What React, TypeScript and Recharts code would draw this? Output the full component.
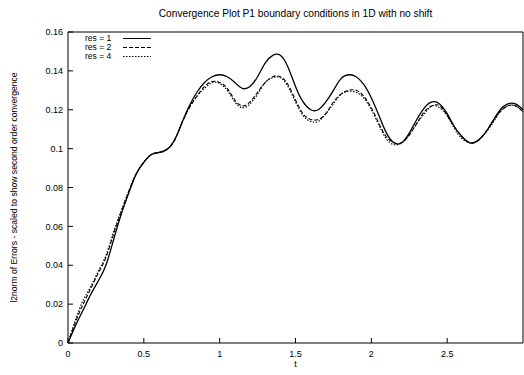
import { LineChart, Line, XAxis, YAxis } from "recharts";

const FONT = "'Liberation Sans', Arial, sans-serif";

const tValues = [
  0, 0.05, 0.1, 0.15, 0.2, 0.25, 0.3, 0.35, 0.4, 0.45, 0.5, 0.55, 0.6, 0.65,
  0.7, 0.75, 0.8, 0.85, 0.9, 0.95, 1, 1.05, 1.1, 1.15, 1.2, 1.25, 1.3, 1.35,
  1.4, 1.45, 1.5, 1.55, 1.6, 1.65, 1.7, 1.75, 1.8, 1.85, 1.9, 1.95, 2, 2.05,
  2.1, 2.15, 2.2, 2.25, 2.3, 2.35, 2.4, 2.45, 2.5, 2.55, 2.6, 2.65, 2.7, 2.75,
  2.8, 2.85, 2.9, 2.95, 3,
];

const res1 = [
  0, 0.009, 0.017, 0.025, 0.032, 0.04, 0.053, 0.066, 0.077, 0.087, 0.093,
  0.097, 0.098, 0.0995, 0.104, 0.113, 0.122, 0.129, 0.134, 0.137, 0.138,
  0.137, 0.134, 0.131, 0.132, 0.137, 0.144, 0.148, 0.148, 0.142, 0.132, 0.124,
  0.12, 0.12, 0.124, 0.13, 0.136, 0.138, 0.137, 0.133, 0.126, 0.117, 0.108,
  0.103, 0.103, 0.108, 0.115, 0.121, 0.124, 0.123, 0.118, 0.111, 0.106, 0.103,
  0.104, 0.108, 0.114, 0.12, 0.123, 0.123, 0.12,
];

const res2 = [
  0, 0.011, 0.02, 0.028, 0.036, 0.044, 0.056, 0.067, 0.078, 0.087, 0.093,
  0.097, 0.098, 0.0995, 0.104, 0.113, 0.121, 0.127, 0.132, 0.1345, 0.134,
  0.131, 0.125, 0.122, 0.124, 0.129, 0.134, 0.137, 0.137, 0.133, 0.125, 0.118,
  0.115, 0.115, 0.118, 0.124, 0.128, 0.13, 0.13, 0.127, 0.121, 0.113, 0.106,
  0.103, 0.103, 0.107, 0.113, 0.119, 0.122, 0.122, 0.117, 0.111, 0.106, 0.103,
  0.104, 0.108, 0.114, 0.119, 0.122, 0.122, 0.119,
];

const res4 = [
  0, 0.012, 0.022, 0.029, 0.037, 0.045, 0.057, 0.068, 0.078, 0.087, 0.093,
  0.097, 0.098, 0.0995, 0.104, 0.113, 0.121, 0.127, 0.131, 0.134, 0.1335,
  0.13, 0.124, 0.121, 0.123, 0.128, 0.134, 0.1365, 0.1365, 0.132, 0.124,
  0.117, 0.114, 0.114, 0.118, 0.123, 0.128, 0.1295, 0.129, 0.126, 0.12, 0.112,
  0.105, 0.102, 0.103, 0.107, 0.113, 0.118, 0.122, 0.121, 0.117, 0.11, 0.105,
  0.103, 0.104, 0.108, 0.113, 0.119, 0.122, 0.122, 0.119,
];

const xTicks = [0, 0.5, 1, 1.5, 2, 2.5];
const yTicks = [0, 0.02, 0.04, 0.06, 0.08, 0.1, 0.12, 0.14, 0.16];

const SERIES = [
  { key: "res1", name: "res = 1", dash: undefined, width: 1.3 },
  { key: "res2", name: "res = 2", dash: "4 2", width: 1.1 },
  { key: "res4", name: "res = 4", dash: "1.5 1.5", width: 1.1 },
];

const data = tValues.map((t, i) => ({
  t,
  res1: res1[i],
  res2: res2[i],
  res4: res4[i],
}));

const tickStyle = { fill: "#000", fontSize: 9, fontFamily: FONT };

// legend box sits inside the plot, top-left, like gnuplot's key
function LegendBox() {
  return (
    <div
      style={{
        position: "absolute",
        left: 85,
        top: 34,
        fontFamily: FONT,
        fontSize: 8.5,
        lineHeight: "9px",
        color: "#000",
      }}
    >
      {SERIES.map((s) => (
        <div key={s.key} style={{ display: "flex", alignItems: "center", height: 9 }}>
          <span style={{ width: 36, whiteSpace: "nowrap" }}>{s.name}</span>
          <svg width={32} height={9}>
            <line
              x1={2}
              x2={30}
              y1={4.5}
              y2={4.5}
              stroke="#000"
              strokeWidth={1}
              strokeDasharray={s.dash}
            />
          </svg>
        </div>
      ))}
    </div>
  );
}

export default function App() {
  return (
    <div
      style={{
        position: "absolute",
        left: 0,
        top: 0,
        width: 524,
        height: 375,
        background: "#fff",
      }}
    >
      <LineChart
        width={524}
        height={375}
        data={data}
        margin={{ top: 31, right: 0, bottom: 0, left: 0 }}
      >
        <XAxis
          dataKey="t"
          type="number"
          domain={[0, 3]}
          ticks={xTicks}
          interval={0}
          tickSize={-5}
          tickMargin={13}
          stroke="#000"
          tick={tickStyle}
          height={32}
          label={{
            value: "t",
            position: "insideBottom",
            offset: 8,
            style: { fill: "#000", fontSize: 9, fontFamily: FONT },
          }}
        />
        <XAxis
          xAxisId="top"
          dataKey="t"
          orientation="top"
          type="number"
          domain={[0, 3]}
          ticks={xTicks}
          interval={0}
          tickSize={-5}
          tick={false}
          stroke="#000"
          height={1}
          label={{
            value: "Convergence Plot P1 boundary conditions in 1D with no shift",
            position: "top",
            offset: 14,
            style: { fill: "#000", fontSize: 10.2, fontFamily: FONT },
          }}
        />
        <YAxis
          type="number"
          domain={[0, 0.16]}
          ticks={yTicks}
          interval={0}
          tickSize={-5}
          tickMargin={10}
          stroke="#000"
          tick={tickStyle}
          width={68}
          label={{
            value: "l2norm of Errors - scaled to show second order convergence",
            angle: -90,
            position: "insideLeft",
            offset: 14,
            style: {
              fill: "#000",
              fontSize: 8.6,
              fontFamily: FONT,
              textAnchor: "middle",
            },
          }}
        />
        <YAxis
          yAxisId="right"
          orientation="right"
          type="number"
          domain={[0, 0.16]}
          ticks={yTicks}
          interval={0}
          tickSize={-5}
          tick={false}
          stroke="#000"
          width={1}
        />
        {SERIES.map((s, i) => (
          <Line
            key={s.key}
            dataKey={s.key}
            name={s.name}
            xAxisId={i === 0 ? "top" : 0}
            yAxisId={i === 0 ? "right" : 0}
            type="natural"
            stroke="#000"
            strokeWidth={s.width}
            strokeDasharray={s.dash}
            dot={false}
            activeDot={false}
            isAnimationActive={false}
          />
        ))}
      </LineChart>
      <LegendBox />
    </div>
  );
}
